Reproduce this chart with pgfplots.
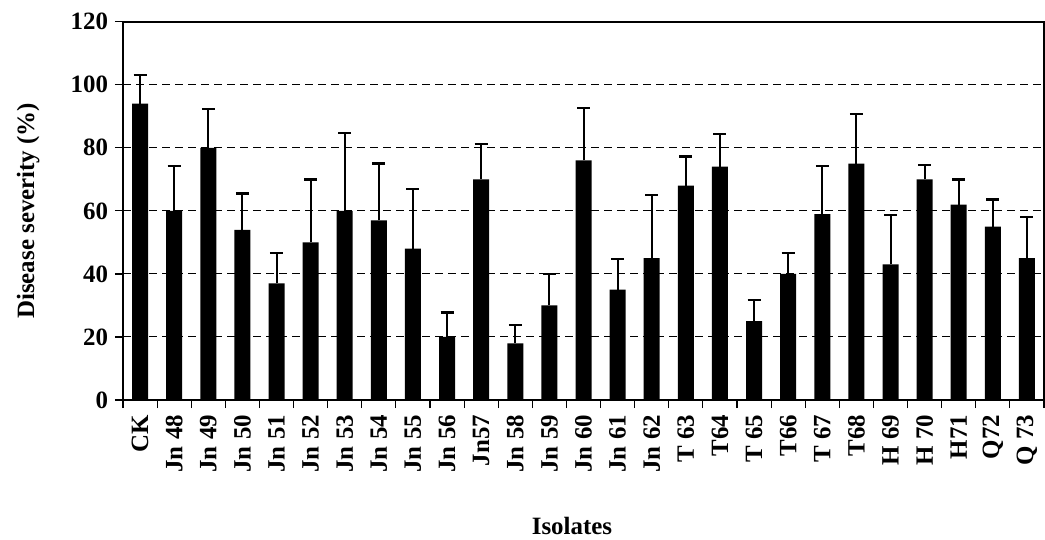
\documentclass[border=0pt]{standalone}
\usepackage{fontspec}
\setmainfont{Liberation Serif}
\usepackage{pgfplots}
\usepackage{pgfplotstable}
\pgfplotsset{compat=1.18}

\pgfplotstableread{
x  y   e
0  94  9
1  60  14.2
2  80  12.3
3  54  11.5
4  37  9.7
5  50  20
6  60  24.6
7  57  18
8  48  19
9  20  7.8
10 70  11.2
11 18  5.8
12 30  10
13 76  16.7
14 35  9.8
15 45  20
16 68  9.3
17 74  10.3
18 25  6.8
19 40  6.7
20 59  15.2
21 75  15.7
22 43  15.7
23 70  4.5
24 62  8
25 55  8.6
26 45  13
}\severity

\begin{document}
\begin{tikzpicture}
\useasboundingbox (-61.5bp,-70bp) rectangle (461bp,200bp);
\begin{axis}[
    at={(0,0)}, anchor=south west,
    scale only axis,
    width=460.5bp, height=189.15bp,
    xmin=-0.5, xmax=26.5,
    ymin=0, ymax=120,
    ytick={0,20,...,120},
    ytick pos=left,
    xtick={-0.5,0.5,...,26.5},
    xticklabels={},
    xtick pos=bottom,
    extra x ticks={0,...,26},
    extra x tick labels={CK,Jn 48,Jn 49,Jn 50,Jn 51,Jn 52,Jn 53,Jn 54,Jn 55,Jn 56,Jn57,Jn 58,Jn 59,Jn 60,Jn 61,Jn 62,T 63,T64,T 65,T66,T 67,T68,H 69,H 70,H71,Q72,Q 73},
    extra x tick style={tick style={draw=none}, xticklabel style={rotate=90, anchor=east}},
    tick align=outside,
    major tick length=4bp,
    tick style={black, line width=0.6bp},
    axis line style={line width=1bp},
    ymajorgrids,
    major grid style={dash pattern=on 4bp off 2.5bp, black, line width=0.5bp},
    ticklabel style={font=\fontsize{12.5}{15}\selectfont\bfseries},
    /pgf/number format/assume math mode=true,
    ylabel={Disease severity (\%)},
    ylabel style={font=\fontsize{12.5}{15}\selectfont\bfseries, at={(axis description cs:-0.103,0.5)}, anchor=center, rotate=0},
    xlabel={Isolates},
    xlabel style={font=\fontsize{12.5}{15}\selectfont\bfseries, at={(axis description cs:0.4875,-0.333)}, anchor=center},
]
\addplot[ybar, bar width=8bp, bar shift=0pt, fill=black, draw=none,
    error bars/.cd, y dir=plus, y explicit,
    error bar style={draw=black, line width=1bp},
    error mark options={draw=black, line width=1.2bp, mark size=3.25bp, rotate=90}]
    table[x=x, y=y, y error=e] {\severity};
\end{axis}
\end{tikzpicture}
\end{document}
